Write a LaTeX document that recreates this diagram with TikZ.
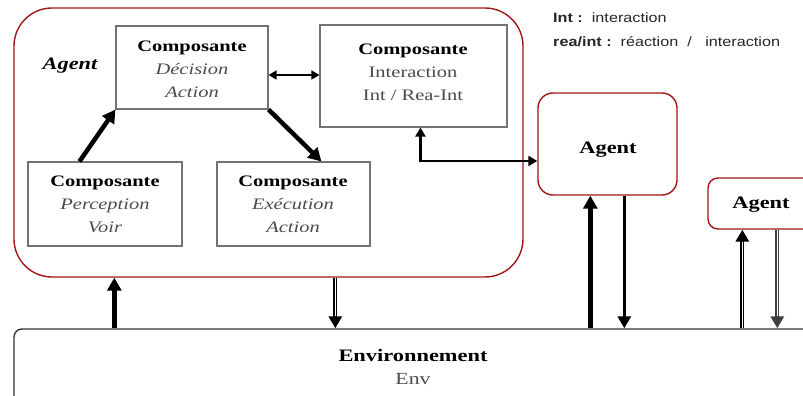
\documentclass[tikz,border=0pt]{standalone}
\usepackage{fontspec}
\setmainfont[FakeStretch=1.28]{Liberation Serif}
\setsansfont[FakeStretch=1.2]{Liberation Sans}
\usetikzlibrary{arrows.meta,calc,shadows}

\definecolor{agentred}{RGB}{160,22,22}
\definecolor{boxgray}{RGB}{115,115,115}
\definecolor{softtext}{RGB}{75,75,75}

\begin{document}
\begin{tikzpicture}[x=1pt,y=-1pt,
  agentbox/.style={draw=agentred, line width=1.4pt, fill=white, inner sep=0pt},
  compbox/.style={draw=boxgray, line width=1.1pt, fill=white, inner sep=0pt,
    drop shadow={shadow xshift=1pt, shadow yshift=-1pt, fill=gray!80, opacity=1}},
  envbox/.style={draw=black!80, line width=1.4pt, fill=white, inner sep=0pt, rounded corners=8pt},
  comptext/.style={align=center, inner sep=0pt, font=\fontsize{16}{23}\selectfont},
  agenttext/.style={anchor=base, inner sep=0pt, font=\bfseries\fontsize{17.5}{20}\selectfont},
  legendtext/.style={anchor=base west, inner sep=0pt, text=black!85, font=\sffamily\fontsize{13.5}{18}\selectfont},
  bigarrow/.style={line width=4.5pt, -{Triangle[length=13pt,width=14pt]}},
  midarrow/.style={line width=3.5pt, -{Triangle[length=12pt,width=13pt]}},
  linkarrow/.style={line width=2.2pt, {Triangle[length=9pt,width=10pt]}-{Triangle[length=9pt,width=10pt]}},
  thinarrow/.style={line width=1.5pt, {Triangle[length=8pt,width=9pt]}-{Triangle[length=8pt,width=9pt]}},
  dblarrow/.style={draw=#1, line width=4pt, -{Triangle[length=12pt,width=13pt]},
    postaction={draw=white, line width=1.2pt, -, shorten >=12pt}},
  dblarrow/.default=black
]
\useasboundingbox (0,0) rectangle (803,396);
\clip (0,0) rectangle (803,396);

% main agent with its four components
\node[agentbox, rounded corners=38pt, minimum width=509pt, minimum height=269pt] (agA) at (268.5,142.5) {};
\node[anchor=base, inner sep=0pt, font=\bfseries\itshape\fontsize{17.5}{20}\selectfont] (agAlbl) at (70,70) {Agent};

\node[compbox, minimum width=152pt, minimum height=83pt] (dec) at (192,67.5) {};
\node[comptext] (dectxt) at (192,69.5) {\textbf{Composante}\\ \textcolor{softtext}{\itshape Décision}\\ \textcolor{softtext}{\itshape Action}};

\node[compbox, minimum width=187pt, minimum height=102pt] (int) at (413.5,76) {};
\node[comptext] (inttxt) at (413,72) {\textbf{Composante}\\ \textcolor{softtext}{Interaction}\\ \textcolor{softtext}{Int / Rea-Int}};

\node[compbox, minimum width=154pt, minimum height=84pt] (per) at (105,204) {};
\node[comptext] (pertxt) at (105,204.5) {\textbf{Composante}\\ \textcolor{softtext}{\itshape Perception}\\ \textcolor{softtext}{\itshape Voir}};

\node[compbox, minimum width=153pt, minimum height=84pt] (exe) at (293.5,204) {};
\node[comptext] (exetxt) at (293,204.5) {\textbf{Composante}\\ \textcolor{softtext}{\itshape Exécution}\\ \textcolor{softtext}{\itshape Action}};

% other agents
\node[agentbox, rounded corners=15pt, minimum width=139pt, minimum height=102pt] (agB) at (607.5,144) {};
\node[agenttext] (agBlbl) at (608,153) {Agent};

\node[agentbox, rounded corners=10pt, minimum width=107pt, minimum height=51pt] (agC) at (761.5,203.5) {};
\node[agenttext] (agClbl) at (761,208) {Agent};

% environment
\node[envbox, minimum width=801pt, minimum height=86pt] (env) at (414.5,372) {};
\node[agenttext] (envlbl) at (413,361) {Environnement};
\node[anchor=base, inner sep=0pt, text=softtext, font=\fontsize{17}{20}\selectfont] (envsub) at (413,384) {Env};

% legend
\node[legendtext] (leg1) at (553,23) {\textbf{Int :}\ \ interaction};
\node[legendtext] (leg2) at (553,47) {\textbf{rea/int :}\ \ r\'eaction\ \ /\ \ \ interaction};

% links inside the agent
\draw[bigarrow] ($(per.north west)+(52,0)$) -- (dec.south west);
\draw[bigarrow] (dec.south east) -- ($(exe.north west)+(105,0)$);
\draw[thinarrow] ($(dec.east)+(0,7.5)$) -- ($(int.west)+(0,-1)$);
\draw[linkarrow] ($(int.south west)+(101,0)$) |- ($(agB.west)+(0,17)$);

% links with the environment
\draw[bigarrow] ($(env.north west)+(101,0)$) -- ($(agA.south west)+(101,0)$);
\draw[dblarrow] ($(agA.south west)+(322,0)$) -- ($(env.north west)+(322,0)$);
\draw[bigarrow] ($(env.north west)+(577,0)$) -- ($(agB.south west)+(53,0)$);
\draw[midarrow] ($(agB.south west)+(87,0)$) -- ($(env.north west)+(611,0)$);
\draw[dblarrow] ($(env.north west)+(729,0)$) -- ($(agC.south west)+(35,0)$);
\draw[dblarrow=black!75] ($(agC.south west)+(70,0)$) -- ($(env.north west)+(764,0)$);
\end{tikzpicture}
\end{document}
